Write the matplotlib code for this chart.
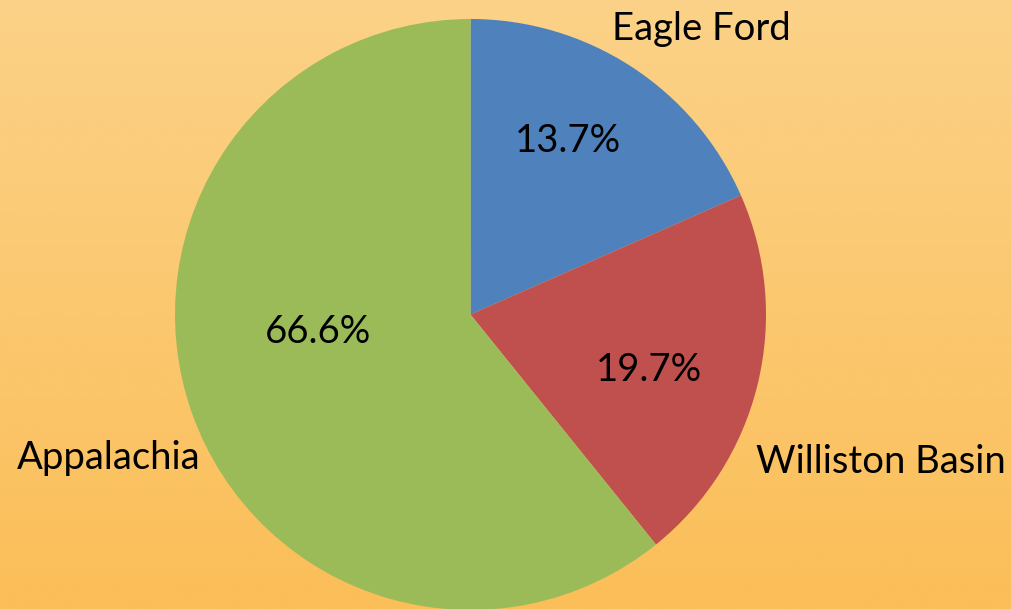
import numpy as np
import matplotlib.pyplot as plt
from matplotlib.colors import LinearSegmentedColormap

# basins and their slice sizes as drawn, with the printed data labels
basins = ['Eagle Ford', 'Williston Basin', 'Appalachia']
shares = [18.4, 20.8, 60.8]
pct_labels = ['13.7%', '19.7%', '66.6%']
colors = ['#4F81BD', '#C0504D', '#9BBB59']

W, H = 1011, 609
fig = plt.figure(figsize=(W / 100, H / 100), dpi=100)
ax = fig.add_axes([0, 0, 1, 1])
ax.set_xlim(0, W)
ax.set_ylim(0, H)
ax.set_aspect('equal')
ax.axis('off')

#background gradient, light at top, deeper orange at bottom
bg = LinearSegmentedColormap.from_list('bg', ['#FBBE58', '#FBD288'])
grad = np.linspace(0, 1, 256).reshape(-1, 1)
ax.imshow(grad, cmap=bg, extent=[0, W, 0, H], origin='lower', aspect='auto', zorder=0)

cx, cy, r = 470.5, H - 314.5, 295.5
ax.pie(shares, colors=colors, startangle=90, counterclock=False,
       center=(cx, cy), radius=r, frame=True,
       wedgeprops=dict(linewidth=0, zorder=1))
ax.set_xlim(0, W)
ax.set_ylim(0, H)
ax.axis('off')

font = 'Lato'
fs = 27.5

# percentage labels inside slices
pct_pos = [(568, 141), (649, 370), (318, 332)]
for (px, py), t in zip(pct_pos, pct_labels):
    ax.text(px, H - py, t, ha='center', va='center', fontsize=fs, family=font, zorder=3)

# category labels outside
name_pos = [(701, 29), (881, 462), (109, 458)]
for (px, py), t in zip(name_pos, basins):
    ax.text(px, H - py, t, ha='center', va='center', fontsize=fs, family=font, zorder=3)

plt.savefig('out.png', dpi=100)
